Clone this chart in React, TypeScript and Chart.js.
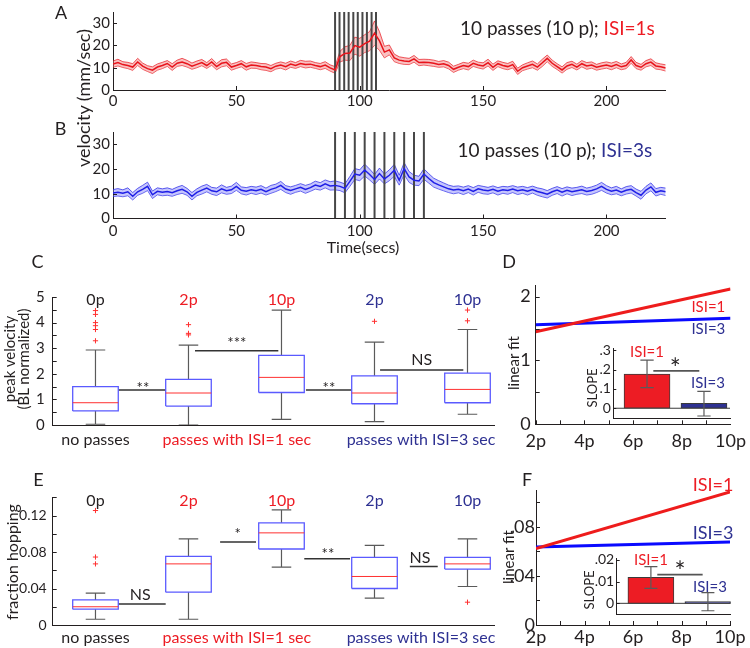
import React, { useEffect, useRef } from 'react';
import { Chart, registerables } from 'chart.js';

Chart.register(...registerables);

const FONT = 'Lato, "Open Sans", "DejaVu Sans", sans-serif';
Chart.defaults.font.family = FONT;

const TEXT = '#231f20';
const AXIS = '#231f20';
const RED = '#ed1c24';
const NAVY = '#2e3192';
const LINE_BLUE = '#0a0aff';
const LINE_RED = '#ee1c1c';
const BOX_BLUE = '#5a5aff';
const MED_RED = '#ff3030';
const WHISK = '#5a5a5a';

// ---------------- DATA ----------------
// panels A/B: time series sampled every 2 s (0..224 s)
const T_STEP = 2;
const A_MEAN = [
  11.6, 12.3, 11.4, 11.0, 10.3, 12.6, 10.7, 9.6, 8.9, 10.3,
  11.0, 11.9, 10.3, 12.0, 12.6, 11.8, 10.7, 11.5, 12.3, 11.0,
  12.6, 10.5, 12.0, 12.4, 10.3, 11.0, 11.8, 10.4, 11.2, 11.0,
  10.5, 10.3, 9.6, 10.7, 11.2, 10.5, 11.6, 11.0, 11.9, 11.4,
  11.6, 11.0, 10.5, 11.2, 9.9, 9.0, 15.0, 16.4, 16.6, 19.9,
  19.2, 20.8, 21.9, 25.5, 22.0, 17.0, 18.0, 14.4, 13.4, 13.0,
  12.8, 14.0, 12.3, 12.5, 12.3, 12.0, 11.5, 11.8, 11.0, 9.3,
  10.2, 11.0, 10.5, 12.0, 11.2, 10.8, 12.3, 10.2, 11.8, 11.0,
  10.5, 11.4, 8.4, 10.0, 10.8, 11.5, 10.3, 12.2, 14.2, 12.0,
  10.5, 9.0, 10.8, 11.5, 10.3, 11.8, 10.8, 11.2, 10.2, 10.8,
  11.2, 10.6, 11.4, 10.4, 11.0, 13.5, 11.0, 10.2, 11.8, 12.5,
  10.8, 10.4, 9.9,
];
const A_SEM = [
  1.4, 1.5, 1.3, 1.4, 1.5, 1.6, 1.4, 1.3, 1.5, 1.4,
  1.4, 1.3, 1.5, 1.4, 1.6, 1.5, 1.4, 1.5, 1.4, 1.3,
  1.5, 1.4, 1.6, 1.5, 1.4, 1.3, 1.4, 1.5, 1.4, 1.3,
  1.4, 1.5, 1.4, 1.3, 1.4, 1.5, 1.4, 1.3, 1.4, 1.5,
  1.4, 1.3, 1.4, 1.5, 1.4, 1.5, 2.4, 3.0, 3.4, 3.8,
  4.0, 4.0, 4.3, 5.5, 4.2, 2.6, 2.2, 1.7, 1.5, 1.5,
  1.4, 1.5, 1.4, 1.3, 1.4, 1.4, 1.3, 1.4, 1.5, 1.4,
  1.3, 1.4, 1.5, 1.4, 1.3, 1.4, 1.5, 1.4, 1.3, 1.4,
  1.4, 1.5, 1.4, 1.3, 1.4, 1.5, 1.4, 1.6, 1.5, 1.4,
  1.3, 1.4, 1.5, 1.4, 1.3, 1.4, 1.5, 1.4, 1.3, 1.4,
  1.4, 1.5, 1.4, 1.3, 1.4, 1.5, 1.4, 1.3, 1.4, 1.5,
  1.4, 1.3, 1.4,
];
const B_MEAN = [
  10.3, 10.6, 10.2, 10.8, 9.0, 10.8, 11.8, 13.0, 9.6, 11.0,
  10.6, 10.9, 10.4, 11.2, 11.8, 10.8, 9.0, 10.6, 11.5, 12.3,
  11.2, 10.8, 12.0, 11.2, 11.6, 13.0, 11.4, 11.0, 11.6, 11.2,
  11.8, 10.9, 11.8, 12.4, 13.4, 11.9, 11.3, 12.0, 12.6, 11.8,
  12.5, 13.5, 13.0, 14.0, 13.2, 13.4, 13.0, 12.2, 15.0, 18.0,
  17.5, 19.6, 17.8, 15.8, 18.2, 16.0, 17.5, 19.5, 15.5, 20.2,
  16.8, 15.5, 15.2, 18.0, 16.2, 14.5, 13.6, 12.8, 12.0, 11.5,
  11.8, 11.2, 11.9, 11.0, 12.0, 11.5, 11.2, 11.8, 11.0, 11.6,
  11.3, 11.9, 11.2, 11.6, 11.0, 11.7, 10.9, 10.4, 9.8, 10.8,
  11.5, 10.6, 11.4, 10.8, 11.2, 11.6, 10.9, 11.3, 12.0, 13.0,
  11.8, 11.0, 11.5, 10.6, 11.4, 11.8, 10.5, 9.4, 11.5, 12.8,
  10.6, 11.2, 10.8,
];
const B_SEM = [
  1.4, 1.5, 1.4, 1.6, 1.5, 1.4, 1.6, 1.7, 1.5, 1.4,
  1.4, 1.5, 1.4, 1.5, 1.6, 1.4, 1.5, 1.4, 1.6, 1.5,
  1.4, 1.5, 1.6, 1.4, 1.5, 1.6, 1.4, 1.5, 1.4, 1.5,
  1.5, 1.4, 1.6, 1.5, 1.6, 1.4, 1.5, 1.4, 1.5, 1.6,
  1.5, 1.6, 1.5, 1.6, 1.7, 1.8, 1.7, 1.8, 2.0, 2.2,
  2.2, 2.4, 2.2, 2.0, 2.2, 2.0, 2.2, 2.4, 2.0, 2.4,
  2.2, 2.0, 1.9, 2.1, 1.9, 1.8, 1.7, 1.6, 1.5, 1.5,
  1.4, 1.5, 1.4, 1.5, 1.4, 1.5, 1.4, 1.4, 1.5, 1.4,
  1.5, 1.4, 1.5, 1.4, 1.5, 1.4, 1.5, 1.6, 1.5, 1.4,
  1.4, 1.5, 1.4, 1.5, 1.4, 1.5, 1.4, 1.5, 1.5, 1.6,
  1.5, 1.4, 1.5, 1.4, 1.5, 1.5, 1.4, 1.6, 1.5, 1.6,
  1.5, 1.4, 1.5,
];
const A_PASSES = [90, 91.8, 93.7, 95.5, 97.4, 99.2, 101.1, 102.9, 104.8, 106.6];
const B_PASSES = [90, 94, 98, 102, 106, 110, 114, 118, 122, 126];

// panels C/E: groups
const GROUP_POS = [1, 2, 3, 4, 5];
const GROUP_LABELS = ['0p', '2p', '10p', '2p', '10p'];
const GROUP_COLORS = [TEXT, RED, RED, NAVY, NAVY];
const CAT_POS = [1, 2.52, 4.5];
const CAT_LABELS = ['no passes', 'passes with ISI=1 sec', 'passes with ISI=3 sec'];
const CAT_COLORS = [TEXT, RED, NAVY];

// box stats: [lower whisker, q1, median, q3, upper whisker]
const C_BOXES = [
  [0.03, 0.55, 0.87, 1.5, 2.93],
  [0.0, 0.74, 1.25, 1.78, 3.12],
  [0.22, 1.27, 1.86, 2.72, 4.49],
  [0.13, 0.83, 1.25, 1.92, 3.24],
  [0.42, 0.87, 1.39, 2.03, 3.73],
];
const C_OUTLIERS = [[4.47, 4.32, 4.0, 3.88, 3.73, 3.29], [3.92, 3.58, 3.52], [], [4.05], [4.07, 4.49]];
const C_SIG_TEXT = ['**', '***', '**', 'NS'];
const C_SIG_X1 = [1.245, 2.07, 3.263, 4.06];
const C_SIG_X2 = [1.755, 2.966, 3.755, 4.955];
const C_SIG_Y = [1.37, 2.9, 1.37, 2.15];

const E_BOXES = [
  [0.0063, 0.0173, 0.02, 0.0275, 0.035],
  [0.0063, 0.036, 0.067, 0.0752, 0.0944],
  [0.0635, 0.0833, 0.101, 0.112, 0.1263],
  [0.0294, 0.04, 0.0532, 0.0741, 0.0873],
  [0.0422, 0.0613, 0.067, 0.0741, 0.0944],
];
const E_OUTLIERS = [[0.1255, 0.0745, 0.067], [], [], [], [0.025]];
const E_SIG_TEXT = ['NS', '*', '**', 'NS'];
const E_SIG_X1 = [1.245, 2.34, 3.245, 4.38];
const E_SIG_X2 = [1.755, 2.726, 3.737, 4.68];
const E_SIG_Y = [0.0231, 0.091, 0.0727, 0.0642];

// panels D/F: linear fits evaluated at 2p and 10p
const FIT_X = [2, 10];
const D_FIT_ISI1 = [1.45, 2.12];
const D_FIT_ISI3 = [1.56, 1.66];
const F_FIT_ISI1 = [0.0623, 0.1085];
const F_FIT_ISI3 = [0.0636, 0.0676];

// insets: slopes (ISI=1, ISI=3) with error bars
const SLOPE_LABELS = ['ISI=1', 'ISI=3'];
const D_SLOPE = [0.177, 0.026];
const D_SLOPE_LO = [0.107, -0.04];
const D_SLOPE_HI = [0.249, 0.087];
const F_SLOPE = [0.012, 0.0008];
const F_SLOPE_LO = [0.0069, -0.0034];
const F_SLOPE_HI = [0.0169, 0.0049];

// ---------------- PLUGINS ----------------
const inTicks = (cfg: any) => ({
  id: 'inTicks',
  afterDatasetsDraw(chart: any) {
    const { ctx, chartArea: a } = chart;
    const len = cfg.len ?? 4;
    ctx.save();
    ctx.strokeStyle = AXIS;
    ctx.lineWidth = 1;
    ctx.beginPath();
    if (cfg.x) {
      const s = chart.scales.x;
      s.ticks.forEach((t: any) => {
        const p = Math.round(s.getPixelForValue(t.value)) + 0.5;
        if (p < a.left - 0.5 || p > a.right + 0.5) return;
        ctx.moveTo(p, a.bottom);
        ctx.lineTo(p, a.bottom - len);
      });
    }
    if (cfg.y) {
      const s = chart.scales.y;
      s.ticks.forEach((t: any) => {
        const p = Math.round(s.getPixelForValue(t.value)) + 0.5;
        if (p < a.top - 0.5 || p > a.bottom + 0.5) return;
        ctx.moveTo(a.left, p);
        ctx.lineTo(a.left + len, p);
      });
    }
    ctx.stroke();
    ctx.restore();
  },
});

type Note = { x: number; y: number; text: string; color?: string; size?: number; dy?: number };
const notes = (items: Note[]) => ({
  id: 'notes',
  afterDatasetsDraw(chart: any) {
    const { ctx } = chart;
    const sx = chart.scales.x;
    const sy = chart.scales.y;
    ctx.save();
    items.forEach((n) => {
      const size = n.size ?? 15;
      ctx.font = `${size}px ${FONT}`;
      ctx.fillStyle = n.color ?? TEXT;
      ctx.textAlign = 'center';
      ctx.textBaseline = 'middle';
      const isStar = /^\*+$/.test(n.text);
      const dy = (n.dy ?? 0) + (isStar ? size * 0.24 : 0);
      ctx.fillText(n.text, sx.getPixelForValue(n.x), sy.getPixelForValue(n.y) + dy);
    });
    ctx.restore();
  },
});

// ---------------- HELPERS ----------------
function axis(o: any) {
  return {
    type: 'linear',
    min: o.min,
    max: o.max,
    offset: false,
    grid: { display: false, drawTicks: false, offset: false },
    border: { display: o.border ?? true, color: AXIS, width: 1 },
    ticks: {
      display: o.display ?? true,
      stepSize: o.step,
      includeBounds: false,
      autoSkip: false,
      maxRotation: 0,
      minRotation: 0,
      padding: o.pad ?? 3,
      color: o.color ?? TEXT,
      font: { size: o.size ?? 14, family: FONT },
      callback: o.cb ?? ((v: number) => String(v)),
    },
    afterBuildTicks: o.build,
    afterFit: o.fit,
  };
}

function baseOptions(pad: any) {
  return {
    responsive: false,
    maintainAspectRatio: false,
    animation: false,
    devicePixelRatio: 1,
    events: [],
    layout: { padding: pad },
    plugins: { legend: { display: false }, tooltip: { enabled: false } },
  };
}

const flat = { pointRadius: 0, pointHoverRadius: 0, fill: false, tension: 0 };

function traceConfig(mean: number[], sem: number[], passes: number[], color: string, band: string, padTop: number, xh: number, xPad: number) {
  const pts = (arr: number[]) => arr.map((v, i) => ({ x: i * T_STEP, y: v }));
  const upper = mean.map((m, i) => m + sem[i]);
  const lower = mean.map((m, i) => m - sem[i]);
  const yMax = 35;
  const passPts = passes.flatMap((p) => [{ x: p, y: 0 }, { x: p, y: yMax }, { x: p, y: null }]);
  return {
    type: 'line',
    data: {
      datasets: [
        { data: pts(mean), borderColor: color, borderWidth: 1.5, ...flat },
        { data: passPts, borderColor: '#474747', borderWidth: 2, ...flat },
        { data: pts(upper), borderColor: color, borderWidth: 0.7, ...flat, fill: '+1', backgroundColor: band },
        { data: pts(lower), borderColor: color, borderWidth: 0.7, ...flat },
      ],
    },
    options: {
      ...baseOptions({ left: 73, top: padTop, right: 34.3, bottom: 0 }),
      scales: {
        x: axis({ min: 0, max: 224, step: 50, size: 15, pad: xPad, fit: (s: any) => { s.height = xh; } }),
        y: axis({ min: 0, max: yMax, step: 10, size: 15, pad: 3, fit: (s: any) => { s.width = 40; } }),
      },
    },
    plugins: [inTicks({ x: true, y: true, len: 4 })],
  };
}

function boxConfig(p: any) {
  const hw = 0.245;
  const cw = 0.105;
  const boxPts: any[] = [];
  const medPts: any[] = [];
  const whPts: any[] = [];
  const outPts: any[] = [];
  p.boxes.forEach((b: number[], i: number) => {
    const [lo, q1, med, q3, hi] = b;
    const x = GROUP_POS[i];
    boxPts.push({ x: x - hw, y: q1 }, { x: x + hw, y: q1 }, { x: x + hw, y: q3 }, { x: x - hw, y: q3 }, { x: x - hw, y: q1 }, { x, y: null });
    medPts.push({ x: x - hw, y: med }, { x: x + hw, y: med }, { x, y: null });
    whPts.push(
      { x, y: q3 }, { x, y: hi }, { x, y: null },
      { x, y: q1 }, { x, y: lo }, { x, y: null },
      { x: x - cw, y: hi }, { x: x + cw, y: hi }, { x, y: null },
      { x: x - cw, y: lo }, { x: x + cw, y: lo }, { x, y: null },
    );
    p.outliers[i].forEach((v: number) => outPts.push({ x, y: v }));
  });
  const sigPts: any[] = [];
  p.sigX1.forEach((x1: number, i: number) => {
    sigPts.push({ x: x1, y: p.sigY[i] }, { x: p.sigX2[i], y: p.sigY[i] }, { x: x1, y: null });
  });
  const noteItems: Note[] = [
    ...GROUP_LABELS.map((t, i) => ({ x: GROUP_POS[i], y: p.groupY, text: t, color: GROUP_COLORS[i], size: 16 })),
    ...p.sigText.map((t: string, i: number) => ({ x: p.sigTextX[i], y: p.sigTextY[i], text: t, size: t === 'NS' ? 16 : 15 })),
  ];
  return {
    type: 'line',
    data: {
      datasets: [
        { data: outPts, showLine: false, pointStyle: 'cross', pointRadius: 2.6, pointBorderColor: MED_RED, pointBorderWidth: 1, borderColor: MED_RED, fill: false },
        { data: medPts, borderColor: MED_RED, borderWidth: 1, ...flat },
        { data: boxPts, borderColor: BOX_BLUE, borderWidth: 1.3, ...flat },
        { data: whPts, borderColor: WHISK, borderWidth: 1.2, ...flat },
        { data: sigPts, borderColor: '#333333', borderWidth: 1.4, ...flat },
      ],
    },
    options: {
      ...baseOptions(p.pad),
      scales: {
        x: axis({
          min: 0.54, max: 5.285, size: 16, pad: p.xPad,
          build: (s: any) => { s.ticks = CAT_POS.map((v) => ({ value: v })); },
          cb: (_v: number, i: number) => CAT_LABELS[i],
          color: (c: any) => CAT_COLORS[c.index] ?? TEXT,
          fit: (s: any) => { s.height = p.xh; },
        }),
        y: axis({ min: 0, max: p.yMax, step: p.yStep, size: p.ySize, pad: p.yPad, cb: p.yCb, fit: (s: any) => { s.width = 45; } }),
      },
    },
    plugins: [inTicks({ y: true, len: 4 }), notes(noteItems)],
  };
}

function fitConfig(p: any) {
  return {
    type: 'line',
    data: {
      datasets: [
        { data: FIT_X.map((x, i) => ({ x, y: p.isi1[i] })), borderColor: LINE_RED, borderWidth: 3, ...flat },
        { data: FIT_X.map((x, i) => ({ x, y: p.isi3[i] })), borderColor: LINE_BLUE, borderWidth: 3, ...flat },
      ],
    },
    options: {
      ...baseOptions(p.pad),
      scales: {
        x: axis({ min: 2, max: 10, step: 1, size: 18, pad: p.xPad, cb: (v: number) => (v % 2 === 0 ? `${v}p` : ''), fit: (s: any) => { s.height = p.xh; } }),
        y: axis({ min: 0, max: p.yMax, step: p.yStep, size: 18, pad: p.yPad, cb: p.yCb, fit: (s: any) => { s.width = 30; } }),
      },
    },
    plugins: [
      inTicks({ x: true, y: true, len: 4 }),
      notes([
        { x: p.noteX, y: p.note1Y, text: 'ISI=1', color: RED, size: p.noteSize },
        { x: p.noteX, y: p.note3Y, text: 'ISI=3', color: NAVY, size: p.noteSize },
      ]),
    ],
  };
}

function insetConfig(p: any) {
  const cap = 0.057;
  const errPts: any[] = [];
  p.pos.forEach((x: number, i: number) => {
    const lo = p.lo[i];
    const hi = p.hi[i];
    errPts.push(
      { x, y: lo }, { x, y: hi }, { x, y: null },
      { x: x - cap, y: hi }, { x: x + cap, y: hi }, { x, y: null },
      { x: x - cap, y: lo }, { x: x + cap, y: lo }, { x, y: null },
    );
  });
  return {
    type: 'bar',
    data: {
      datasets: [
        { type: 'line', data: errPts, borderColor: WHISK, borderWidth: 1.2, ...flat },
        { type: 'line', data: [{ x: p.sigX[0], y: p.sigY }, { x: p.sigX[1], y: p.sigY }], borderColor: '#555555', borderWidth: 1.6, ...flat },
        {
          type: 'bar',
          data: p.pos.map((x: number, i: number) => ({ x, y: p.vals[i] })),
          backgroundColor: [RED, NAVY],
          borderColor: '#3a3a3a',
          borderWidth: 1,
          barThickness: 46,
          borderSkipped: false,
        },
        { type: 'line', data: [{ x: 0, y: 0 }, { x: 1, y: 0 }], borderColor: '#3a3a3a', borderWidth: 1, ...flat },
      ],
    },
    options: {
      ...baseOptions(p.pad),
      scales: {
        x: axis({ min: 0, max: 1, step: 0.5, display: false, fit: (s: any) => { s.height = p.xh; } }),
        y: axis({ min: p.yMin, max: p.yMax, step: p.yStep, size: 14, pad: 2.5, cb: p.yCb, fit: (s: any) => { s.width = 30; } }),
      },
    },
    plugins: [
      inTicks({ y: true, len: 3 }),
      notes([
        { x: p.pos[0], y: p.label1Y, text: SLOPE_LABELS[0], color: RED, size: 15 },
        { x: p.label3X, y: p.label3Y, text: SLOPE_LABELS[1], color: NAVY, size: 15 },
        { x: p.starX, y: p.starY, text: '*', size: 26 },
      ]),
    ],
  };
}

// tick label formatters
const intLabel = (v: number) => (Math.abs(v - Math.round(v)) < 1e-9 ? String(Math.round(v)) : '');
const eLabel = (v: number) => {
  const r = Math.round(v * 100);
  if (r % 4 !== 0) return '';
  return r === 0 ? '0' : (r / 100).toFixed(2);
};
const fLabel = (v: number) => {
  const r = Math.round(v * 100);
  if (r % 4 !== 0) return '';
  return r === 0 ? '0' : '.' + String(r).padStart(2, '0');
};
const dInsetLabel = (v: number) => {
  const r = Math.round(v * 10);
  if (r < 0) return '';
  return r === 0 ? '0' : '.' + r;
};
const fInsetLabel = (v: number) => {
  const r = Math.round(v * 100);
  if (r < 0) return '';
  return r === 0 ? '0' : '.' + String(r).padStart(2, '0');
};

// ---------------- COMPONENTS ----------------
function ChartCanvas({ left, top, width, height, make }: any) {
  const ref = useRef<HTMLCanvasElement>(null);
  useEffect(() => {
    if (!ref.current) return;
    const c = new Chart(ref.current, make());
    return () => c.destroy();
  }, []);
  return (
    <canvas
      ref={ref}
      width={width}
      height={height}
      style={{ position: 'absolute', left, top, width, height }}
    />
  );
}

function Txt({ x, y, size, color = TEXT, align = 'left', children }: any) {
  const tx = align === 'center' ? '-50%' : align === 'right' ? '-100%' : '0';
  return (
    <div
      style={{
        position: 'absolute',
        left: x,
        top: y - 0.53 * size,
        fontSize: size,
        lineHeight: `${size}px`,
        color,
        whiteSpace: 'nowrap',
        fontFamily: FONT,
        transform: `translateX(${tx})`,
      }}
    >
      {children}
    </div>
  );
}

function VTxt({ x, y, size, color = TEXT, children }: any) {
  return (
    <div
      style={{
        position: 'absolute',
        left: x,
        top: y,
        fontSize: size,
        lineHeight: `${size}px`,
        color,
        whiteSpace: 'nowrap',
        fontFamily: FONT,
        transform: 'translate(-50%, -50%) rotate(-90deg)',
      }}
    >
      {children}
    </div>
  );
}

export default function App() {
  return (
    <div style={{ position: 'absolute', left: 0, top: 0, width: 750, height: 648, background: '#fff', overflow: 'hidden' }}>
      <ChartCanvas left={0} top={0} width={700} height={112}
        make={() => traceConfig(A_MEAN, A_SEM, A_PASSES, '#e8141c', 'rgba(242,120,120,0.45)', 5.3, 22, 2)} />
      <ChartCanvas left={0} top={120} width={700} height={130}
        make={() => traceConfig(B_MEAN, B_SEM, B_PASSES, '#1f1fe6', 'rgba(120,120,250,0.42)', 9.6, 31.5, 4)} />

      <ChartCanvas left={0} top={280} width={520} height={170}
        make={() => boxConfig({
          boxes: C_BOXES, outliers: C_OUTLIERS,
          sigX1: C_SIG_X1, sigX2: C_SIG_X2, sigY: C_SIG_Y, sigText: C_SIG_TEXT,
          sigTextX: [1.51, 2.52, 3.51, 4.507], sigTextY: [1.565, 3.32, 1.565, 2.557],
          groupY: 4.885, yMax: 5, yStep: 0.5, ySize: 15, yPad: 8, yCb: intLabel,
          pad: { left: 7.7, top: 14, right: 26, bottom: 0 }, xh: 25, xPad: 5,
        })} />
      <ChartCanvas left={0} top={480} width={520} height={168}
        make={() => boxConfig({
          boxes: E_BOXES, outliers: E_OUTLIERS,
          sigX1: E_SIG_X1, sigX2: E_SIG_X2, sigY: E_SIG_Y, sigText: E_SIG_TEXT,
          sigTextX: [1.48, 2.53, 3.5, 4.49], sigTextY: [0.033, 0.104, 0.0818, 0.0741],
          groupY: 0.1366, yMax: 0.14, yStep: 0.02, ySize: 14, yPad: 6, yCb: eLabel,
          pad: { left: 7.7, top: 17.3, right: 26, bottom: 0 }, xh: 23, xPad: 3,
        })} />

      <ChartCanvas left={502} top={270} width={250} height={190}
        make={() => fitConfig({
          isi1: D_FIT_ISI1, isi3: D_FIT_ISI3, yMax: 2.17, yStep: 0.5, yCb: intLabel, yPad: 5,
          pad: { left: 3.7, top: 13.3, right: 18, bottom: 0 }, xh: 35.7, xPad: 6,
          noteX: 9.09, note1Y: 1.835, note3Y: 1.497, noteSize: 15,
        })} />
      <ChartCanvas left={560} top={330} width={190} height={110}
        make={() => insetConfig({
          pos: [0.289, 0.777], vals: D_SLOPE, lo: D_SLOPE_LO, hi: D_SLOPE_HI,
          yMin: -0.052, yMax: 0.31, yStep: 0.1, yCb: dInsetLabel,
          sigX: [0.343, 0.737], sigY: 0.193,
          label1Y: 0.289, label3X: 0.811, label3Y: 0.128, starX: 0.53, starY: 0.232,
          pad: { left: 23.3, top: 18.3, right: 20, bottom: 0 }, xh: 21.7,
        })} />

      <ChartCanvas left={500} top={475} width={250} height={173}
        make={() => fitConfig({
          isi1: F_FIT_ISI1, isi3: F_FIT_ISI3, yMax: 0.11, yStep: 0.02, yCb: fLabel, yPad: 1,
          pad: { left: 6, top: 15, right: 20, bottom: 0 }, xh: 23, xPad: 1,
          noteX: 9.3, note1Y: 0.1136, note3Y: 0.0747, noteSize: 18,
        })} />
      <ChartCanvas left={560} top={540} width={190} height={100}
        make={() => insetConfig({
          pos: [0.3, 0.8], vals: F_SLOPE, lo: F_SLOPE_LO, hi: F_SLOPE_HI,
          yMin: -0.0049, yMax: 0.0207, yStep: 0.01, yCb: fInsetLabel,
          sigX: [0.356, 0.754], sigY: 0.0132,
          label1Y: 0.02, label3X: 0.818, label3Y: 0.00765, starX: 0.555, starY: 0.0169,
          pad: { left: 26.7, top: 18.3, right: 19.3, bottom: 0 }, xh: 26,
        })} />

      {/* panel letters */}
      <Txt x={61} y={12.7} size={18} align="center">A</Txt>
      <Txt x={60.5} y={128.3} size={18} align="center">B</Txt>
      <Txt x={37.5} y={261.7} size={18} align="center">C</Txt>
      <Txt x={509} y={261.5} size={18} align="center">D</Txt>
      <Txt x={38.5} y={480} size={18} align="center">E</Txt>
      <Txt x={527} y={480} size={18} align="center">F</Txt>

      {/* titles */}
      <Txt x={460} y={28.3} size={19}>10 passes (10 p); <span style={{ color: RED }}>ISI=1s</span></Txt>
      <Txt x={457.5} y={150} size={19}>10 passes (10 p); <span style={{ color: NAVY }}>ISI=3s</span></Txt>
      <Txt x={363} y={247} size={16} align="center">Time(secs)</Txt>

      {/* axis titles */}
      <VTxt x={83} y={98} size={18}>velocity (mm/sec)</VTxt>
      <VTxt x={9} y={359} size={15}>peak velocity</VTxt>
      <VTxt x={23} y={359} size={15}>(BL normalized)</VTxt>
      <VTxt x={12} y={561.7} size={16}>fraction hopping</VTxt>
      <VTxt x={513} y={362.5} size={15}>linear fit</VTxt>
      <VTxt x={508} y={556.5} size={15}>linear fit</VTxt>
      <VTxt x={592} y={387.5} size={13}>SLOPE</VTxt>
      <VTxt x={588.5} y={589.5} size={13}>SLOPE</VTxt>
    </div>
  );
}
